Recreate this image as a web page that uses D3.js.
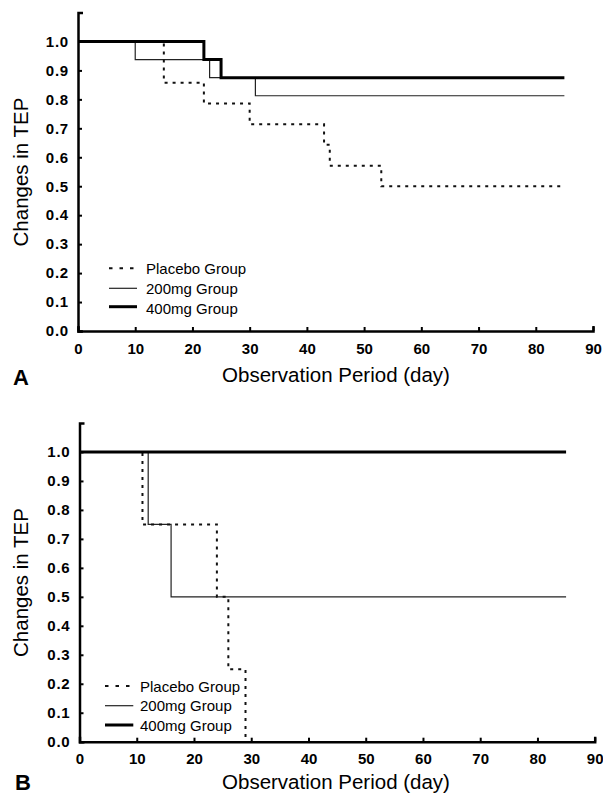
<!DOCTYPE html>
<html>
<head>
<meta charset="utf-8">
<script src="https://cdn.jsdelivr.net/npm/d3@7"></script>
<style>
  html, body { margin: 0; padding: 0; background: #fff; }
  svg { display: block; }
  text { font-family: "Liberation Sans", Arial, Helvetica, sans-serif; fill: #000; }
</style>
</head>
<body>
<svg id="chart" width="603" height="797"></svg>
<script>
// ---------- data ----------
const yTickValues = [0.0, 0.1, 0.2, 0.3, 0.4, 0.5, 0.6, 0.7, 0.8, 0.9, 1.0];
const xTickValues = [0, 10, 20, 30, 40, 50, 60, 70, 80, 90];
const seriesNames = ["Placebo Group", "200mg Group", "400mg Group"];

// Panel A (days, fraction)
const placeboA_days = [0, 15, 22, 30, 43, 44, 53, 85];
const placeboA_vals = [1.0, 0.857, 0.786, 0.714, 0.643, 0.571, 0.5, 0.5];
const dose200A_days = [0, 10, 23, 31, 85];
const dose200A_vals = [1.0, 0.9375, 0.875, 0.8125, 0.8125];
const dose400A_days = [0, 22, 25, 85];
const dose400A_vals = [1.0, 0.9375, 0.875, 0.875];

// Panel B
const placeboB_days = [0, 11, 24, 26, 29];
const placeboB_vals = [1.0, 0.75, 0.5, 0.25, 0.0];
const dose200B_days = [0, 12, 16, 85];
const dose200B_vals = [1.0, 0.75, 0.5, 0.5];
const dose400B_days = [0, 85];
const dose400B_vals = [1.0, 1.0];

const panelLabels = ["A", "B"];
const xTitle = "Observation Period (day)";
const yTitle = "Changes in TEP";

// ---------- drawing ----------
const svg = d3.select("#chart");
const zip = (d, v) => d.map((t, i) => ({ t: t, v: v[i] }));

const styles = [
  { dash: "3,5", width: 2, color: "#111" },
  { dash: null, width: 1.2, color: "#222" },
  { dash: null, width: 3, color: "#000" }
];

const panels = [
  {
    label: panelLabels[0],
    xr: [78, 593], y0: 331, y11: 12.5,
    series: [zip(placeboA_days, placeboA_vals), zip(dose200A_days, dose200A_vals), zip(dose400A_days, dose400A_vals)],
    legend: { x1: 109, x2: 137, tx: 146, ly: [268.3, 288.3, 306.7], ty: [274, 294, 313.5] },
    yTitle: [28, 172], xTitleY: 382, labelPos: [13, 385]
  },
  {
    label: panelLabels[1],
    xr: [79.5, 594.7], y0: 741.7, y11: 423,
    series: [zip(placeboB_days, placeboB_vals), zip(dose200B_days, dose200B_vals), zip(dose400B_days, dose400B_vals)],
    legend: { x1: 105, x2: 133.3, tx: 140, ly: [686, 705.7, 725], ty: [691.7, 711, 730.7] },
    yTitle: [28, 582.5], xTitleY: 789, labelPos: [15, 790]
  }
];

panels.forEach(p => {
  const g = svg.append("g");
  const x = d3.scaleLinear().domain([0, 90]).range(p.xr);
  const y = d3.scaleLinear().domain([0, 1.1]).range([p.y0, p.y11]);

  // lines
  const line = d3.line().x(d => x(d.t)).y(d => y(d.v)).curve(d3.curveStepAfter);
  [1, 0, 2].forEach(i => {
    const s = styles[i];
    g.append("path")
      .datum(p.series[i])
      .attr("d", line)
      .attr("fill", "none")
      .attr("stroke", s.color)
      .attr("stroke-width", s.width)
      .attr("stroke-dasharray", s.dash);
  });

  // axes
  const xAxis = d3.axisBottom(x).tickValues(xTickValues).tickFormat(d3.format("d"))
    .tickSizeInner(-4).tickSizeOuter(-5).tickPadding(12);
  const yAxis = d3.axisLeft(y).tickValues(yTickValues).tickFormat(d3.format(".1f"))
    .tickSizeInner(-4).tickSizeOuter(-5).tickPadding(9);

  const gx = g.append("g").attr("transform", `translate(0,${p.y0})`).call(xAxis);
  const gy = g.append("g").attr("transform", `translate(${p.xr[0]},0)`).call(yAxis);
  [gx, gy].forEach(a => {
    a.select(".domain").attr("stroke", "#000").attr("stroke-width", 2.5);
    a.selectAll(".tick line").attr("stroke", "#000").attr("stroke-width", 2);
    a.selectAll(".tick text").attr("font-family", '"Liberation Sans", Arial, sans-serif')
      .attr("font-size", 15).attr("font-weight", "bold").attr("fill", "#000");
  });
  gy.selectAll(".tick text").attr("letter-spacing", 0.8);

  // axis titles
  g.append("text")
    .attr("transform", `translate(${p.yTitle[0]},${p.yTitle[1]}) rotate(-90)`)
    .attr("text-anchor", "middle")
    .attr("font-size", 20.5)
    .text(yTitle);
  g.append("text")
    .attr("x", 336).attr("y", p.xTitleY)
    .attr("text-anchor", "middle")
    .attr("font-size", 20.5)
    .text(xTitle);

  // panel label
  g.append("text")
    .attr("x", p.labelPos[0]).attr("y", p.labelPos[1])
    .attr("font-size", 22).attr("font-weight", "bold")
    .text(p.label);

  // legend
  seriesNames.forEach((name, i) => {
    const s = styles[i];
    g.append("line")
      .attr("x1", p.legend.x1).attr("x2", p.legend.x2)
      .attr("y1", p.legend.ly[i]).attr("y2", p.legend.ly[i])
      .attr("stroke", s.color).attr("stroke-width", s.width)
      .attr("stroke-dasharray", i === 0 ? "3.5,7" : null);
    g.append("text")
      .attr("x", p.legend.tx).attr("y", p.legend.ty[i])
      .attr("font-size", 15)
      .text(name);
  });
});
</script>
</body>
</html>
